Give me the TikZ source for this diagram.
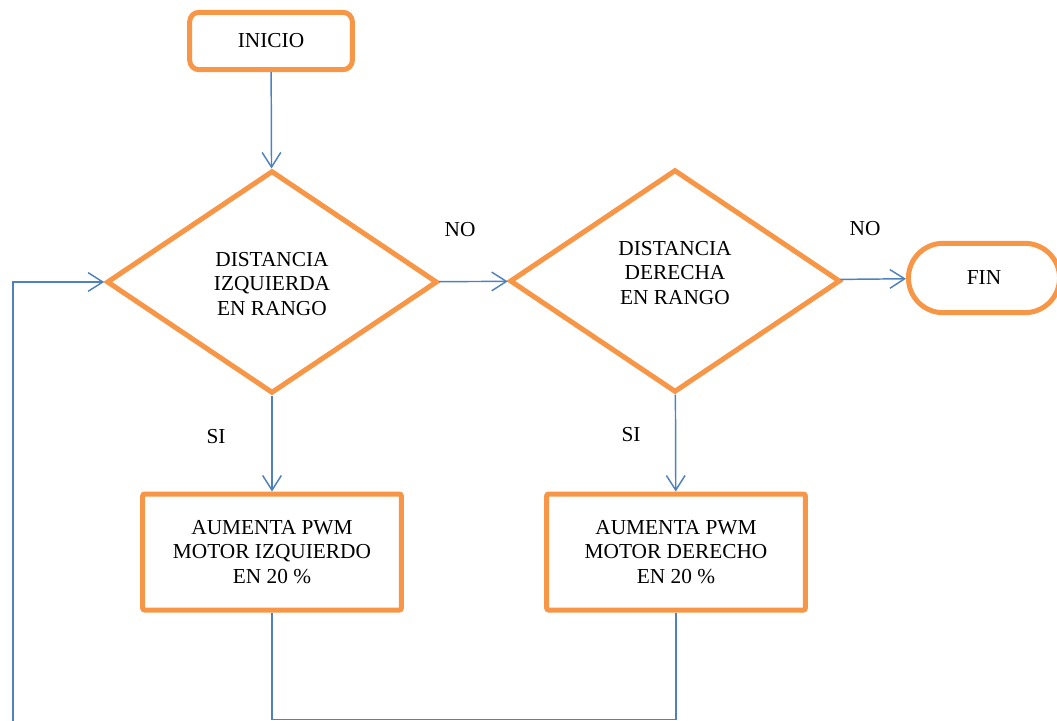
\documentclass[tikz,border=0pt]{standalone}
\usepackage{fontspec}
\setmainfont{Liberation Serif}
\usetikzlibrary{shapes.geometric,shapes.misc,arrows.meta}

\definecolor{naranja}{HTML}{F79646}
\definecolor{azul}{HTML}{4F81BD}

\tikzset{
  texto/.style={align=center, font=\fontsize{16}{18.5}\selectfont},
  bloque/.style={texto, draw=naranja, line width=3.75pt},
  inicio/.style={bloque, rectangle, rounded corners=7pt,
    minimum width=122pt, minimum height=43pt},
  fin/.style={bloque, rounded rectangle, minimum width=120pt, minimum height=52pt},
  decision/.style={bloque, diamond, minimum width=248pt, minimum height=167pt},
  proceso/.style={bloque, rectangle, rounded corners=1.5pt,
    minimum width=194pt, minimum height=87pt},
  linea/.style={draw=azul, line width=1.1pt},
  flecha/.style={linea, -{Straight Barb[length=11pt,width=14pt]}},
  etiq/.style={font=\fontsize{16}{18.5}\selectfont}
}

\begin{document}
\begin{tikzpicture}[x=0.75pt, y=-0.75pt]
\useasboundingbox (0,0) rectangle (1057,721);

% blocs
\node[inicio] (debut) at (271,41) {INICIO};
\node[decision] (d1) at (272,282) {};
\node[texto] (d1txt) at (272,284) {DISTANCIA\\IZQUIERDA\\EN RANGO};
\node[decision] (d2) at (675,281) {};
\node[texto] (d2txt) at (675,273) {DISTANCIA\\DERECHA\\EN RANGO};
\node[fin] (fin) at (984,278) {FIN};
\node[proceso] (p1) at (272,552) {AUMENTA PWM\\MOTOR IZQUIERDO\\EN 20 \%};
\node[proceso] (p2) at (676,552) {AUMENTA PWM\\MOTOR DERECHO\\EN 20 \%};

% étiquettes
\node[etiq] (no1) at (460,230) {NO};
\node[etiq] (no2) at (865,229) {NO};
\node[etiq] (si1) at (216,437) {SI};
\node[etiq] (si2) at (631,435) {SI};

% flèches
\draw[flecha] (debut) -- (d1);
\draw[flecha] (d1) -- (d2);
\draw[flecha] (d2) -- (fin);
\draw[flecha] (d1) -- (p1);
\draw[flecha] (d2) -- (p2);

% retour vers la première décision
\draw[linea] (p1.south) -- ++(0,107) -| (p2.south);
\coordinate (retour) at (13,721);
\draw[flecha] (retour) |- (d1.west);
\end{tikzpicture}
\end{document}
